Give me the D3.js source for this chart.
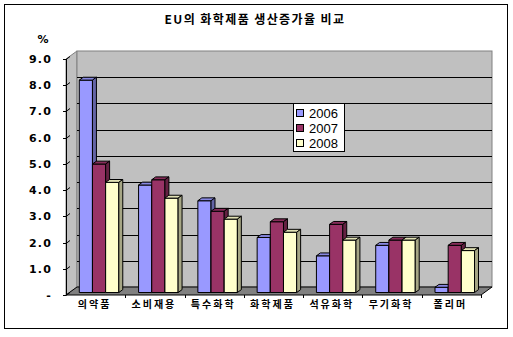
<!DOCTYPE html>
<html>
<head>
<meta charset="utf-8">
<script src="https://cdn.jsdelivr.net/npm/d3@7"></script>
<style>
  html, body { margin: 0; padding: 0; background: #fff; }
  svg { display: block; }
</style>
</head>
<body>
<svg id="chart" width="513" height="337"></svg>
<script>
// Production growth rate of EU chemical segments (%)
const categories = ["의약품", "소비재용", "특수화학", "화학제품", "석유화학", "무기화학", "폴리머"];
const seriesNames = ["2006", "2007", "2008"];
const values2006 = [8.1, 4.1, 3.5, 2.1, 1.4, 1.8, 0.2];
const values2007 = [4.9, 4.3, 3.1, 2.7, 2.6, 2.0, 1.8];
const values2008 = [4.2, 3.6, 2.8, 2.3, 2.0, 2.0, 1.6];
const yTicks = [0, 1, 2, 3, 4, 5, 6, 7, 8, 9];
const seriesColors = ["#9999ff", "#993366", "#ffffcc"];

const seriesValues = [values2006, values2007, values2008];

const svg = d3.select("#chart");

// outer chart frame
svg.append("rect").attr("x", 4.5).attr("y", 4.5).attr("width", 503).attr("height", 324)
  .attr("fill", "#fff").attr("stroke", "#000").attr("stroke-width", 1);

// title
svg.append("text").attr("x", 255).attr("y", 24).attr("text-anchor", "middle")
  .attr("font-family", "'Noto Sans CJK KR', sans-serif").attr("font-weight", "bold")
  .attr("font-size", 12).attr("letter-spacing", 1.4)
  .text("EU의 화학제품 생산증가율 비교");

// unit label
svg.append("text").attr("x", 43).attr("y", 43).attr("text-anchor", "middle")
  .attr("font-family", "'DejaVu Sans', sans-serif").attr("font-weight", "bold")
  .attr("font-size", 11).text("%");

// 3D geometry: front plane scales plus an oblique depth offset
const left = 66, right = 481;
const DX = 11, DY = 8;          // full depth offset of the walls
const y = d3.scaleLinear().domain([0, 9]).range([295, 59]);
const x = d3.scaleBand().domain(categories).range([left, right]).paddingInner(0).paddingOuter(0);
const xs = d3.scaleBand().domain(seriesNames).range([0, x.bandwidth()]).paddingOuter(0.75).paddingInner(0);

const f0 = 0.31, fd = 0.36;     // bar front depth and bar thickness (as fraction of depth)
const bdx = DX * fd, bdy = DY * fd;

const pts = a => a.map(p => p.join(",")).join(" ");

// side wall (left)
svg.append("polygon")
  .attr("points", pts([[left, y(9)], [left + DX, y(9) - DY], [left + DX, y(0) - DY], [left, y(0)]]))
  .attr("fill", "#c0c0c0").attr("stroke", "#808080").attr("stroke-width", 1);

// back wall
svg.append("rect").attr("x", left + DX).attr("y", y(9) - DY)
  .attr("width", right - left).attr("height", y(0) - y(9))
  .attr("fill", "#c0c0c0").attr("stroke", "#808080").attr("stroke-width", 1);

// back-wall gridlines
svg.append("g").selectAll("line").data(yTicks.filter(t => t > 0 && t < 9)).join("line")
  .attr("x1", left + DX).attr("x2", right + DX)
  .attr("y1", d => Math.round(y(d) - DY) + 0.5).attr("y2", d => Math.round(y(d) - DY) + 0.5)
  .attr("stroke", "#000").attr("stroke-width", 1);

// floor
svg.append("polygon")
  .attr("points", pts([[left, y(0)], [right, y(0)], [right + DX, y(0) - DY], [left + DX, y(0) - DY]]))
  .attr("fill", "#808080").attr("stroke", "#000").attr("stroke-width", 1);

// value axis line and tick marks on the side wall
svg.append("line").attr("x1", left + 0.5).attr("x2", left + 0.5).attr("y1", y(9)).attr("y2", y(0))
  .attr("stroke", "#000");
const tickG = svg.append("g");
yTicks.forEach(t => {
  const yy = Math.round(y(t)) + 0.5;
  tickG.append("path")
    .attr("d", `M${left - 3},${yy}H${left}L${left + 4},${yy - 3}`)
    .attr("fill", "none").attr("stroke", "#000").attr("stroke-width", 1);
});

// value axis labels
const yAxis = d3.axisLeft(y).tickValues(yTicks).tickSize(0).tickPadding(14)
  .tickFormat(d => d === 0 ? "-" : d3.format(".1f")(d));
const yAxisG = svg.append("g").attr("transform", `translate(${left},0)`).call(yAxis);
yAxisG.select(".domain").remove();
yAxisG.selectAll("text")
  .attr("font-family", "'DejaVu Sans', sans-serif").attr("font-weight", "bold")
  .attr("font-size", 11).attr("letter-spacing", 1.2).attr("fill", "#000");

// category tick marks along the floor front edge
svg.append("g").selectAll("line").data(categories.slice(1).concat(["__end"])).join("line")
  .attr("x1", d => d === "__end" ? right + 0.5 : Math.round(x(d)) + 0.5)
  .attr("x2", d => d === "__end" ? right + 0.5 : Math.round(x(d)) + 0.5)
  .attr("y1", y(0)).attr("y2", y(0) + 3)
  .attr("stroke", "#000");

// bars drawn left to right so each front face covers its neighbour's side
const shade = (c, k) => d3.rgb(c).darker(k).formatHex();
const barG = svg.append("g");
categories.forEach((cat, ci) => {
  seriesNames.forEach((s, si) => {
    const v = seriesValues[si][ci];
    const x0 = x(cat) + xs(s) + DX * f0;
    const w = xs.bandwidth();
    const yb = y(0) - DY * f0;
    const yt = y(v) - DY * f0;
    const g = barG.append("g").attr("stroke", "#000").attr("stroke-width", 1).attr("stroke-linejoin", "round");
    // front face
    g.append("rect").attr("x", x0).attr("y", yt).attr("width", w).attr("height", yb - yt)
      .attr("fill", seriesColors[si]);
    // top face
    g.append("polygon")
      .attr("points", pts([[x0, yt], [x0 + w, yt], [x0 + w + bdx, yt - bdy], [x0 + bdx, yt - bdy]]))
      .attr("fill", shade(seriesColors[si], 0.35));
    // side face
    g.append("polygon")
      .attr("points", pts([[x0 + w, yt], [x0 + w + bdx, yt - bdy], [x0 + w + bdx, yb - bdy], [x0 + w, yb]]))
      .attr("fill", shade(seriesColors[si], 1.2));
  });
});

// category labels
svg.append("g").selectAll("text").data(categories).join("text")
  .attr("x", d => x(d) + x.bandwidth() / 2 - 1)
  .attr("y", 308).attr("text-anchor", "middle")
  .attr("font-family", "'Noto Sans CJK KR', sans-serif").attr("font-weight", "bold")
  .attr("font-size", 10).attr("letter-spacing", 2)
  .text(d => d);

// legend
const lg = svg.append("g").attr("transform", "translate(293,103)");
lg.append("rect").attr("x", 0.5).attr("y", 0.5).attr("width", 51).attr("height", 48)
  .attr("fill", "#fff").attr("stroke", "#000");
seriesNames.forEach((s, i) => {
  const yy = 10 + i * 15;
  lg.append("rect").attr("x", 3.5).attr("y", yy - 3.5).attr("width", 7).attr("height", 7)
    .attr("fill", seriesColors[i]).attr("stroke", "#000");
  lg.append("text").attr("x", 16).attr("y", yy + 4.5)
    .attr("font-family", "'Liberation Sans', Arial, sans-serif").attr("font-size", 13)
    .attr("fill", "#000").text(s);
});
</script>
</body>
</html>
